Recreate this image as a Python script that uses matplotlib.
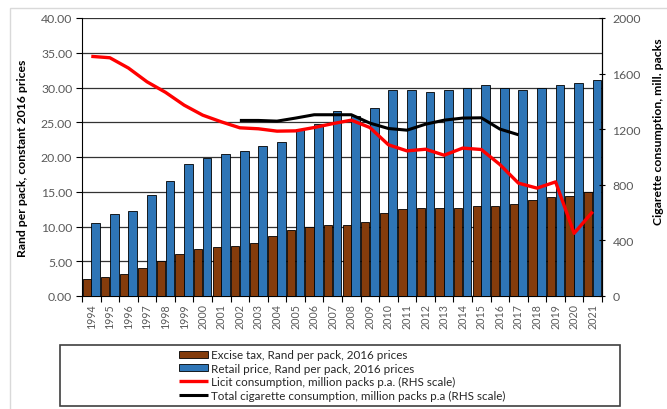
import numpy as np
import matplotlib.pyplot as plt
from matplotlib.patches import Rectangle

years = list(range(1994, 2022))
excise = [2.4, 2.8, 3.1, 4.1, 5.1, 6.0, 6.7, 7.1, 7.25, 7.6, 8.6, 9.5, 9.9, 10.2,
          10.2, 10.7, 11.9, 12.5, 12.6, 12.6, 12.6, 12.9, 13.0, 13.2, 13.8, 14.2, 14.4, 14.9]
retail = [10.5, 11.8, 12.2, 14.5, 16.6, 19.0, 19.8, 20.5, 20.8, 21.6, 22.1, 24.1, 24.8, 26.6,
          25.9, 27.1, 29.7, 29.7, 29.4, 29.7, 30.0, 30.3, 29.9, 29.7, 30.0, 30.3, 30.6, 31.1]
licit = [1724, 1714, 1640, 1541, 1465, 1373, 1301, 1253, 1210, 1203, 1186, 1188, 1212, 1240,
         1265, 1212, 1088, 1044, 1056, 1013, 1064, 1054, 946, 812, 776, 821, 451, 607]
total_years = list(range(2002, 2018))
total = [1263, 1263, 1258, 1280, 1304, 1304, 1304, 1244, 1205, 1193, 1236, 1265, 1280, 1282,
         1201, 1160]

plt.rcParams['font.family'] = ['Lato', 'DejaVu Sans']
grey = '#595959'

fig = plt.figure(figsize=(6.67, 4.10), dpi=100)
ax = fig.add_axes([82/667, 1-297/410, 520/667, 278/410])
ax2 = ax.twinx()

x = np.arange(len(years))
ax.bar(x - 0.245, excise, width=0.45, color='#843C0C', edgecolor='black', linewidth=0.6,
       label='Excise tax, Rand per pack, 2016 prices', zorder=3)
ax.bar(x + 0.235, retail, width=0.47, color='#2E75B6', edgecolor='black', linewidth=0.6,
       label='Retail price, Rand per pack, 2016 prices', zorder=3)

xt = [years.index(y) for y in total_years]
l1, = ax2.plot(x, licit, color='#FF0000', lw=2.4, solid_capstyle='butt',
               label='Licit consumption, million packs p.a. (RHS scale)')
l2, = ax2.plot(xt, total, color='black', lw=2.2, solid_capstyle='butt',
               label='Total cigarette consumption, million packs p.a (RHS scale)')

ax.set_xlim(-0.5, len(years) - 0.5)
ax.set_ylim(0, 40)
ax2.set_ylim(0, 2000)

ax.set_yticks(np.arange(0, 41, 5))
ax.set_yticklabels([f'{v:.2f}' for v in np.arange(0, 41, 5)])
ax.yaxis.grid(True, color='#333333', lw=0.9)
ax.set_axisbelow(True)
ax.tick_params(axis='y', direction='out', length=4, width=0.8, labelsize=8.8, labelcolor=grey, pad=3)

ax.set_xticks(x)
ax.set_xticklabels([str(y) for y in years], rotation=90)
ax.set_xticks(np.arange(-0.5, len(years), 1), minor=True)
ax.tick_params(axis='x', which='major', length=0, labelsize=7.7, labelcolor=grey, pad=5)
ax.tick_params(axis='x', which='minor', direction='out', length=4, width=0.8)

ax2.set_yticks(np.arange(0, 2001, 400))
ax2.tick_params(axis='y', direction='inout', length=5, width=0.8, labelsize=8.8, labelcolor=grey, pad=5)

for a in (ax, ax2):
    a.spines['top'].set_visible(False)
    a.spines['left'].set_color('black')
    a.spines['right'].set_color('black')
    a.spines['bottom'].set_color('black')
ax2.spines['left'].set_visible(False)
ax2.spines['bottom'].set_visible(False)

fig.text(23/667, 1-158/410, 'Rand per pack, constant 2016 prices', rotation=90,
         ha='center', va='center', fontsize=8.8, fontweight='bold')
fig.text(659/667, 1-132/410, 'Cigarette consumption, mill. packs', rotation=90,
         ha='center', va='center', fontsize=8.8, fontweight='bold')

# legend box and outer chart border
fig.patches.append(Rectangle((60/667, 1-407/410), 560/667, 61/410, transform=fig.transFigure,
                             fill=False, edgecolor='#404040', lw=1.2))
fig.patches.append(Rectangle((10/667, -0.1), 1.2, 1.1-9/410, transform=fig.transFigure,
                             fill=False, edgecolor='#d9d9d9', lw=1.0))

handles = ax.get_legend_handles_labels()[0] + [l1, l2]
labels = [h.get_label() for h in handles]
fig.legend(handles, labels, loc='center', bbox_to_anchor=(342/667, 1-376/410),
           frameon=False, fontsize=8.4, handlelength=2.5, handleheight=0.55,
           handletextpad=0.2, labelspacing=0.2, borderpad=0, labelcolor='#262626')

fig.savefig('out.png', dpi=100)
